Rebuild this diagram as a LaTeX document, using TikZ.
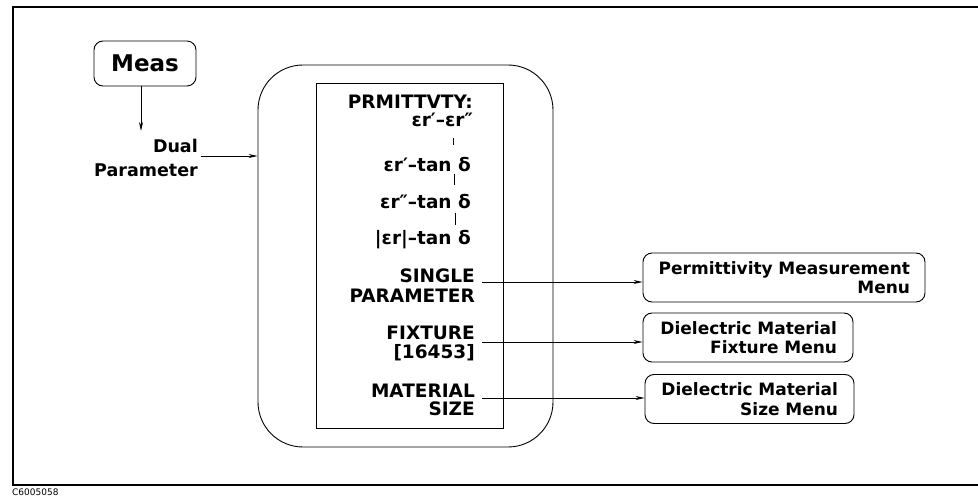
\documentclass[tikz,border=0pt]{standalone}
\usepackage{fontspec}
\setmainfont{DejaVu Sans}
\usetikzlibrary{arrows.meta}
\begin{document}
\begin{tikzpicture}[x=1pt,y=-1pt,
  lbl/.style={font=\bfseries\fontsize{17.5}{19}\selectfont, inner sep=0pt},
  sk/.style={font=\bfseries\fontsize{18.5}{19}\selectfont, inner sep=0pt, anchor=base east},
  menubox/.style={draw, line width=0.9pt, rounded corners=9pt, font=\bfseries\fontsize{17}{19.5}\selectfont, align=right, inner ysep=0pt, minimum height=49pt},
  arr/.style={-{Stealth[length=9pt,width=4pt]}, line width=0.8pt},
  tick/.style={line width=0.6pt}
  ]
\useasboundingbox (0,0) rectangle (978,497);
% frame
\draw[line width=2.4pt] (978,7) -- (13,7) -- (13,485) -- (978,485);
% Meas
\node[draw, line width=0.9pt, rounded corners=9pt, minimum width=102pt, minimum height=45pt,
      font=\bfseries\fontsize{23}{25}\selectfont, inner sep=0pt] (meas) at (145,63.5) {Meas};
\coordinate (measend) at (141,131);
\draw[arr] (meas.south -| measend) -- (measend);
\node[lbl, anchor=base east] (dual) at (198,153) {Dual};
\node[lbl, anchor=base east] (param) at (198,177) {Parameter};
% big rounded box and inner softkey box
\node[draw, line width=0.9pt, rounded corners=45pt, minimum width=295pt, minimum height=382pt, inner sep=0pt] (menu) at (405.5,256) {};
\node[draw, line width=0.9pt, minimum width=187pt, minimum height=345pt, inner sep=0pt] (keys) at (409.5,255.5) {};
\coordinate (dualout) at (201,156);
\draw[arr] (dualout) -- (dualout -| menu.west);
% softkey labels
\node[sk, font=\bfseries\fontsize{18.5}{17.5}\selectfont, align=right, anchor=north east] (prm) at (473,95) {PRMITTVTY:\\εr′–εr″};
\node[sk] (k2) at (471,172) {εr′–tan δ};
\node[sk] (k3) at (471,209) {εr″–tan δ};
\node[sk] (k4) at (471,245) {|εr|–tan δ};
\node[sk] (sg1) at (475,283) {SINGLE};
\node[sk] (sg2) at (475,302) {PARAMETER};
\node[sk] (fx1) at (475,339) {FIXTURE};
\node[sk] (fx2) at (475,358) {[16453]};
\node[sk] (mt1) at (475,397) {MATERIAL};
\node[sk] (mt2) at (475,415) {SIZE};
% small ticks between choices
\draw[tick] (453,138) -- (453,145);
\draw[tick] (454,174) -- (454,185);
\draw[tick] (455,213) -- (455,225);
% right menus
\node[menubox, inner xsep=15pt, text width=252pt] (pm) at (784,277.5) {Permittivity Measurement\\Menu};
\node[menubox, inner xsep=16pt, text width=178pt] (fm) at (748,337.5) {Dielectric Material\\Fixture Menu};
\node[menubox, inner xsep=16pt, text width=177pt] (sm) at (749.5,399) {Dielectric Material\\Size Menu};
\coordinate (sgout) at (482,282);
\coordinate (fxout) at (482,342);
\coordinate (mtout) at (482,398);
\draw[arr] (sgout) -- (sgout -| pm.west);
\draw[arr] (fxout) -- (fxout -| fm.west);
\draw[arr] (mtout) -- (mtout -| sm.west);
% figure code
\node[font=\fontsize{9}{10}\selectfont, anchor=north west, inner sep=0pt] (code) at (12,489) {C6005058};
\end{tikzpicture}
\end{document}
